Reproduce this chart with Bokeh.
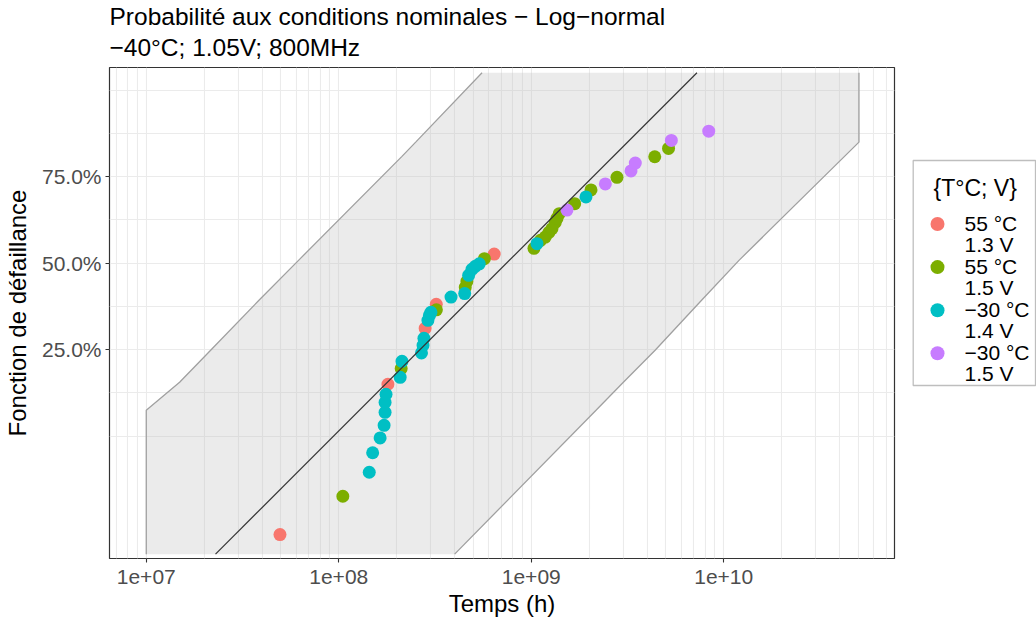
import math
from statistics import NormalDist
from bokeh.plotting import figure
from bokeh.models import Range1d, FixedTicker, Title
from bokeh.layouts import row
from bokeh.embed import file_html
from bokeh.resources import INLINE
from bokeh.core.properties import value

FONT = "Liberation Sans"

# ---------------- data (time in hours, failure probability in %) ----------------
red_t = [4.95e7, 1.80e8, 2.81e8, 3.21e8, 6.42e8]
red_p = [1.71, 17.23, 30.54, 37.37, 52.80]

green_t = [1.05e8, 2.11e8, 3.215e8, 4.54e8, 4.63e8, 5.71e8, 1.033e9, 1.117e9,
           1.182e9, 1.236e9, 1.281e9, 1.333e9, 1.36e9, 1.398e9, 1.681e9,
           2.043e9, 2.788e9, 4.38e9, 5.166e9]
green_p = [3.45, 20.52, 35.76, 42.50, 44.32, 51.37, 54.56, 57.02, 58.03, 59.46,
           60.57, 62.45, 63.62, 64.99, 67.83, 71.58, 74.80, 79.65, 81.43]

cyan_t = [1.44e8, 1.50e8, 1.64e8, 1.72e8, 1.74e8, 1.74e8, 1.76e8, 2.085e8,
          2.13e8, 2.69e8, 2.74e8, 2.77e8, 2.905e8, 2.96e8, 3.01e8, 3.83e8,
          4.51e8, 4.73e8, 4.92e8, 5.12e8, 5.37e8, 1.071e9, 1.924e9]
cyan_p = [5.14, 6.95, 8.63, 10.29, 12.22, 13.85, 15.31, 18.65, 22.18, 24.16,
          26.07, 27.86, 32.75, 34.18, 35.05, 39.55, 40.58, 46.18, 48.05, 48.97,
          49.76, 56.01, 69.71]

purple_t = [1.533e9, 2.425e9, 3.297e9, 3.471e9, 5.343e9, 8.356e9]
purple_p = [66.02, 73.15, 76.38, 78.23, 83.06, 84.82]

series_labels = [("55 °C", "1.3 V"), ("55 °C", "1.5 V"), ("\u221230 °C", "1.4 V"), ("\u221230 °C", "1.5 V")]
series_colors = ["#F8766D", "#7CAE00", "#00BFC4", "#C77CFF"]

# confidence band: probability levels with lower / upper time bounds
band_p = [1.16, 12.55, 17.62, 24.83, 38.59, 50.84, 79.73, 82.72, 93.11]
band_lo = [1.0e7, 1.0e7, 1.49e7, 2.16e7, 3.85e7, 6.18e7, 2.13e8, 2.51e8, 5.55e8]
band_hi = [4.0e8, 2.17e9, 3.01e9, 4.40e9, 7.67e9, 1.20e10, 4.24e10, 5.04e10, 5.04e10]

# fitted log-normal: median time and sigma (natural log)
fit_median = 7.45e8
fit_sigma = 1.534

y_tick_pct = [25, 50, 75]
x_tick_vals = [1e7, 1e8, 1e9, 1e10]
x_tick_labels = ["1e+07", "1e+08", "1e+09", "1e+10"]

title1 = "Probabilité aux conditions nominales \u2212 Log\u2212normal"
title2 = "\u221240°C; 1.05V; 800MHz"
legend_title = "{T°C; V}"

# ---------------- helpers ----------------
nd = NormalDist()


def probit(pct):
    return nd.inv_cdf(pct / 100.0)


z_band = [probit(v) for v in band_p]
z_fit = [z_band[0], z_band[-1]]
t_fit = [fit_median * math.exp(fit_sigma * z) for z in z_fit]

FRAME_TOP, FRAME_H = 67, 491

# ---------------- main figure ----------------
p = figure(
    x_axis_type="log",
    x_range=Range1d(10 ** 6.809, 10 ** 10.887),
    y_range=Range1d(-2.304, 1.525),
    frame_width=785, frame_height=FRAME_H,
    min_border_left=108, min_border_right=8, min_border_top=FRAME_TOP, min_border_bottom=0,
    output_backend="svg", toolbar_location=None,
    background_fill_color="white", border_fill_color="white",
)
p.outline_line_color = "#333333"
p.outline_line_width = 1.2

# title (two lines)
p.add_layout(Title(text=title2, align="left", text_font=FONT, text_font_size="24.5px",
                   text_font_style="normal", text_color="black", standoff=13, offset=0), "above")
p.add_layout(Title(text=title1, align="left", text_font=FONT, text_font_size="24.5px",
                   text_font_style="normal", text_color="black", standoff=-9, offset=0), "above")

# x ticks / grid
x_minor = [n * 10 ** k for k in range(6, 11) for n in range(2, 10)]
xt = FixedTicker(ticks=x_tick_vals, minor_ticks=x_minor)
p.xaxis.ticker = xt
p.xgrid.ticker = xt
p.xaxis.major_label_overrides = {v: s for v, s in zip(x_tick_vals, x_tick_labels)}

# y ticks / grid
y_major = [probit(v) for v in y_tick_pct]
step = probit(75) / 2.0
y_minor = [k * step for k in (-4, -3, -1, 1, 3, 4)]
yt = FixedTicker(ticks=y_major, minor_ticks=y_minor)
p.yaxis.ticker = yt
p.ygrid.ticker = yt
p.yaxis.major_label_overrides = {z: "%.1f%%" % v for z, v in zip(y_major, y_tick_pct)}

for g in (p.xgrid, p.ygrid):
    g.grid_line_color = "#EBEBEB"
    g.grid_line_width = 1.1
    g.minor_grid_line_color = "#EBEBEB"
    g.minor_grid_line_width = 1.1

for ax in (p.xaxis, p.yaxis):
    ax.axis_line_color = None
    ax.major_tick_line_color = "#333333"
    ax.major_tick_line_width = 1.1
    ax.major_tick_out = 4
    ax.major_tick_in = 0
    ax.minor_tick_line_color = None
    ax.major_label_text_font = FONT
    ax.major_label_text_font_size = "21px"
    ax.major_label_text_color = "#4D4D4D"
    ax.axis_label_text_font = FONT
    ax.axis_label_text_font_size = "24px"
    ax.axis_label_text_font_style = "normal"
    ax.axis_label_text_color = "black"

p.xaxis.axis_label = "Temps (h)"
p.yaxis.axis_label = "Fonction de défaillance"
p.xaxis.major_label_standoff = 7
p.xaxis.axis_label_standoff = 3
p.yaxis.major_label_standoff = 4
p.yaxis.axis_label_standoff = 8

# confidence band
p.harea(y=z_band, x1=band_lo, x2=band_hi, fill_color="#BEBEBE", fill_alpha=0.3)
p.line(band_lo, z_band, line_color="#A0A0A0", line_width=1.3)
p.line(band_hi, z_band, line_color="#A0A0A0", line_width=1.3)

# points
all_series = [(red_t, red_p), (green_t, green_p), (cyan_t, cyan_p), (purple_t, purple_p)]
for (t, pc), col in zip(all_series, series_colors):
    p.scatter(x=t, y=[probit(v) for v in pc], size=13, fill_color=col, line_color=None)

# fitted line
p.line(t_fit, z_fit, line_color="#333333", line_width=1.2)

# ---------------- legend panel (y data = page pixel rows, aligned with main frame) ----------------
LW = 135
lg = figure(width=LW, height=600, frame_height=FRAME_H,
            x_range=Range1d(0, LW), y_range=Range1d(FRAME_TOP + FRAME_H, FRAME_TOP),
            min_border_left=0, min_border_right=0, min_border_top=FRAME_TOP, min_border_bottom=0,
            output_backend="svg", toolbar_location=None,
            background_fill_color="white", border_fill_color="white")
lg.outline_line_color = None
lg.axis.visible = False
lg.grid.visible = False

lg.quad(left=[10.7], right=[133], top=[160], bottom=[385], fill_color="white",
        line_color="#BEBEBE", line_width=1.3)
lg.text(x=[31], y=[187], text=[legend_title], text_baseline="middle", text_align="left",
        text_font=value(FONT), text_font_size="23px", text_color="black")
for i, ((l1, l2), col) in enumerate(zip(series_labels, series_colors)):
    yc = 223.5 + i * 43.1
    lg.scatter(x=[35], y=[yc], size=14, fill_color=col, line_color=None)
    lg.text(x=[62, 62], y=[yc - 1, yc + 20], text=[l1, l2], text_baseline="alphabetic",
            text_align="left", text_font=value(FONT), text_font_size="21px",
            text_color="black")

layout = row(p, lg)
open("out.html", "w").write(file_html(layout, INLINE))
